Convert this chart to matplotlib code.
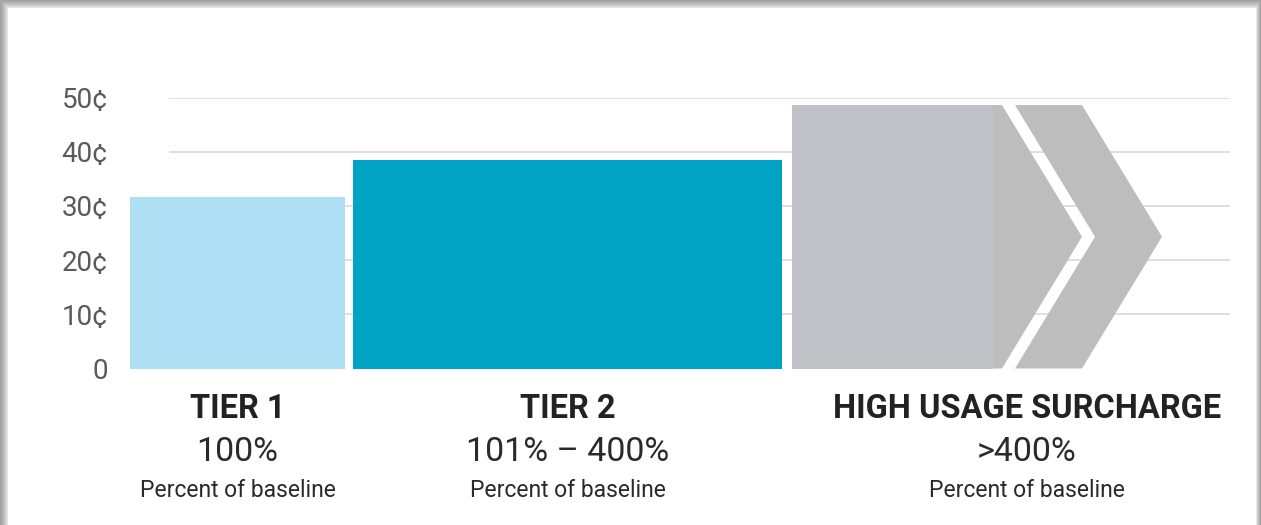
import matplotlib
matplotlib.use("Agg")
import matplotlib.pyplot as plt
from matplotlib.patches import Rectangle, Polygon

# ---- data ----
categories = ["TIER 1", "TIER 2", "HIGH USAGE SURCHARGE"]
ranges = ["100%", "101% – 400%", ">400%"]
sublabel = "Percent of baseline"
values = [31.7, 38.5, 48.6]          # cents per kWh
yticks = [0, 10, 20, 30, 40, 50]
ytick_labels = ["0", "10¢", "20¢", "30¢", "40¢", "50¢"]

# ---- layout (pixel-like x units) ----
W, H, DPI = 1261, 525, 100
bar_left = [0, 223, 662]
bar_width = [215, 429, 210]
label_x = [107.5, 437.5, 897]
colors = ["#AEDFF5", "#00A3C3", "#BFC2C6"]
chev_color = "#BDBDBD"

fig = plt.figure(figsize=(W / DPI, H / DPI), dpi=DPI)
fig.patch.set_facecolor("white")

# card frame with soft shadow
shades = ["#a2a2a2", "#a9a9a9", "#b1b1b1", "#b9b9b9", "#c3c3c3", "#cdcdcd", "#d9d9d9", "#e6e6e6"]
for i, c in enumerate(shades):
    left = i
    right = W - i * 5 / 8
    top = H - i
    fig.patches.append(Rectangle((left / W, -0.1), (right - left) / W, top / H + 0.1,
                                 transform=fig.transFigure, facecolor=c,
                                 edgecolor="none", zorder=-10 + i * 0.01))
fig.patches.append(Rectangle((8 / W, -0.1), (1256 - 8) / W, (H - 8) / H + 0.1,
                             transform=fig.transFigure, facecolor="white",
                             edgecolor="none", zorder=-9))

ax = fig.add_axes([130 / W, (H - 368.5) / H, 1100 / W, 271 / H])
ax.set_facecolor("none")
ax.set_xlim(0, 1100)
ax.set_ylim(0, 50)

# gridlines
for t in yticks[1:]:
    ax.axhline(t, xmin=40 / 1100, xmax=1.0, color="#dcdcdc", lw=1.3, zorder=0)

# tier bars
for i in range(2):
    ax.bar(bar_left[i], values[i], width=bar_width[i], align="edge",
           color=colors[i], edgecolor="none", zorder=2)

# high usage surcharge arrow shape
h = values[2]
x0 = bar_left[2]
x1 = x0 + bar_width[2]
tip = 80
gap = 13
ax.add_patch(Polygon([(x0, 0), (x1, 0), (x1 + tip, h / 2), (x1, h), (x0, h)],
                     closed=True, facecolor=chev_color, edgecolor="none", zorder=2))
ax.bar(x0, h, width=bar_width[2] - 9, align="edge", color=colors[2],
       edgecolor="none", zorder=3)
c0 = x1 + gap
c1 = c0 + 67
ax.add_patch(Polygon([(c0, 0), (c1, 0), (c1 + tip, h / 2), (c1, h), (c0, h),
                      (c0 + tip, h / 2)],
                     closed=True, facecolor=chev_color, edgecolor="none", zorder=2))

# y ticks
ax.set_yticks(yticks)
ax.set_yticklabels(ytick_labels, fontfamily="Roboto", fontsize=20, color="#5a5a5a")
ax.tick_params(axis="y", length=0, pad=16)
ax.set_xticks([])
for s in ax.spines.values():
    s.set_visible(False)

# category labels
for i in range(3):
    ax.annotate(categories[i], xy=(label_x[i], 0), xytext=(0, -49.5 * 0.72),
                textcoords="offset points", ha="center", va="baseline",
                fontfamily="Roboto", fontweight="bold", fontsize=23.5,
                color="#222222", annotation_clip=False)
    ax.annotate(ranges[i], xy=(label_x[i], 0), xytext=(0, -92.5 * 0.72),
                textcoords="offset points", ha="center", va="baseline",
                fontfamily="Roboto", fontsize=24.5, color="#2a2a2a",
                annotation_clip=False)
    ax.annotate(sublabel, xy=(label_x[i], 0), xytext=(0, -128.5 * 0.72),
                textcoords="offset points", ha="center", va="baseline",
                fontfamily="Roboto", fontsize=16.5, color="#2a2a2a",
                annotation_clip=False)

fig.savefig("out.png", dpi=DPI)
